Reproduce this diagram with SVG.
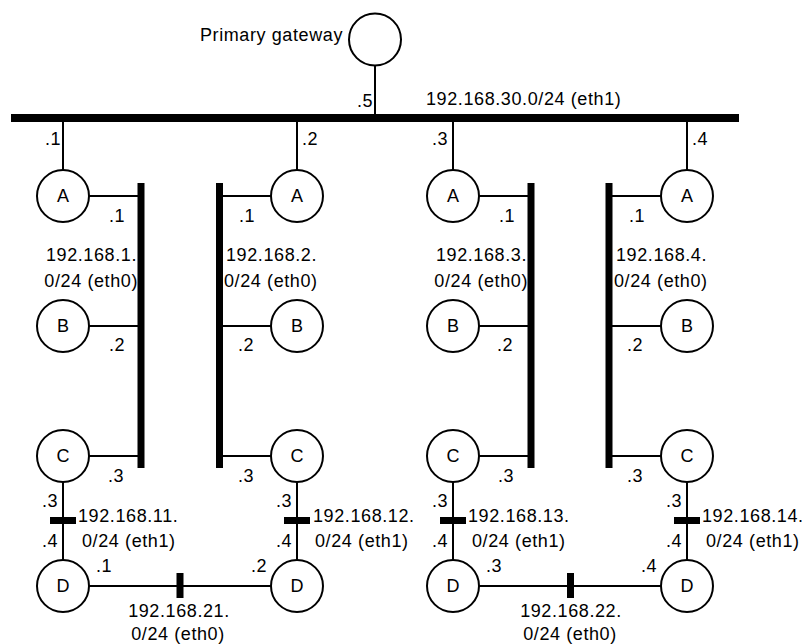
<svg xmlns="http://www.w3.org/2000/svg" width="806" height="644" viewBox="0 0 806 644">
<style>
text{font-family:"Liberation Sans",Arial,sans-serif;font-size:18px;letter-spacing:0.6px;fill:#000}
.n circle{fill:#fff;stroke:#000;stroke-width:2}
.n text{text-anchor:middle;letter-spacing:0}
.w{stroke:#000;stroke-width:2;fill:none}
.bar{fill:#000}
.e{text-anchor:end}
.m{text-anchor:middle}
</style>
<g id="connectors">
<line class="w" x1="375" y1="65" x2="375" y2="118"/>
<line class="w" x1="63" y1="118" x2="63" y2="170"/>
<line class="w" x1="297" y1="118" x2="297" y2="170"/>
<line class="w" x1="453" y1="118" x2="453" y2="170"/>
<line class="w" x1="687" y1="118" x2="687" y2="170"/>
<line class="w" x1="89" y1="196" x2="141" y2="196"/>
<line class="w" x1="89" y1="326" x2="141" y2="326"/>
<line class="w" x1="89" y1="456" x2="141" y2="456"/>
<line class="w" x1="219" y1="196" x2="271" y2="196"/>
<line class="w" x1="219" y1="326" x2="271" y2="326"/>
<line class="w" x1="219" y1="456" x2="271" y2="456"/>
<line class="w" x1="479" y1="196" x2="531" y2="196"/>
<line class="w" x1="479" y1="326" x2="531" y2="326"/>
<line class="w" x1="479" y1="456" x2="531" y2="456"/>
<line class="w" x1="609" y1="196" x2="661" y2="196"/>
<line class="w" x1="609" y1="326" x2="661" y2="326"/>
<line class="w" x1="609" y1="456" x2="661" y2="456"/>
<line class="w" x1="63" y1="482" x2="63" y2="560"/>
<line class="w" x1="297" y1="482" x2="297" y2="560"/>
<line class="w" x1="453" y1="482" x2="453" y2="560"/>
<line class="w" x1="687" y1="482" x2="687" y2="560"/>
<line class="w" x1="89" y1="586" x2="271" y2="586"/>
<line class="w" x1="479" y1="586" x2="661" y2="586"/>
</g>
<g id="buses">
<rect class="bar" x="11" y="114" width="728" height="8"/>
<rect class="bar" x="137.5" y="183" width="7" height="285"/>
<rect class="bar" x="216" y="183" width="7" height="285"/>
<rect class="bar" x="527.5" y="183" width="7" height="285"/>
<rect class="bar" x="605.5" y="183" width="7" height="285"/>
<rect class="bar" x="50" y="517" width="26" height="7"/>
<rect class="bar" x="284" y="517" width="26" height="7"/>
<rect class="bar" x="440" y="517" width="26" height="7"/>
<rect class="bar" x="674" y="517" width="26" height="7"/>
<rect class="bar" x="176.5" y="573" width="7" height="25"/>
<rect class="bar" x="567" y="573" width="7" height="25"/>
</g>
<g id="gateway" class="n"><circle cx="375" cy="39.5" r="26"/></g>
<g id="A1" class="n"><circle cx="63" cy="196" r="26"/><text x="63" y="202">A</text></g>
<g id="A2" class="n"><circle cx="297" cy="196" r="26"/><text x="297" y="202">A</text></g>
<g id="A3" class="n"><circle cx="453" cy="196" r="26"/><text x="453" y="202">A</text></g>
<g id="A4" class="n"><circle cx="687" cy="196" r="26"/><text x="687" y="202">A</text></g>
<g id="B1" class="n"><circle cx="63" cy="326" r="26"/><text x="63" y="332">B</text></g>
<g id="B2" class="n"><circle cx="297" cy="326" r="26"/><text x="297" y="332">B</text></g>
<g id="B3" class="n"><circle cx="453" cy="326" r="26"/><text x="453" y="332">B</text></g>
<g id="B4" class="n"><circle cx="687" cy="326" r="26"/><text x="687" y="332">B</text></g>
<g id="C1" class="n"><circle cx="63" cy="456" r="26"/><text x="63" y="462">C</text></g>
<g id="C2" class="n"><circle cx="297" cy="456" r="26"/><text x="297" y="462">C</text></g>
<g id="C3" class="n"><circle cx="453" cy="456" r="26"/><text x="453" y="462">C</text></g>
<g id="C4" class="n"><circle cx="687" cy="456" r="26"/><text x="687" y="462">C</text></g>
<g id="D1" class="n"><circle cx="63" cy="586" r="26"/><text x="63" y="592">D</text></g>
<g id="D2" class="n"><circle cx="297" cy="586" r="26"/><text x="297" y="592">D</text></g>
<g id="D3" class="n"><circle cx="453" cy="586" r="26"/><text x="453" y="592">D</text></g>
<g id="D4" class="n"><circle cx="687" cy="586" r="26"/><text x="687" y="592">D</text></g>
<g id="labels">
<text class="e" x="343" y="41">Primary gateway</text>
<text x="357" y="107">.5</text>
<text x="426" y="105">192.168.30.0/24 (eth1)</text>
<text x="45" y="145">.1</text>
<text x="302" y="145">.2</text>
<text x="432" y="145">.3</text>
<text x="692" y="145">.4</text>
<text x="109" y="222">.1</text>
<text x="109" y="351">.2</text>
<text x="108" y="482">.3</text>
<text x="239" y="222">.1</text>
<text x="238" y="351">.2</text>
<text x="238" y="482">.3</text>
<text x="499" y="222">.1</text>
<text x="497" y="351">.2</text>
<text x="498" y="482">.3</text>
<text x="629" y="222">.1</text>
<text x="627" y="351">.2</text>
<text x="627" y="482">.3</text>
<text class="e" x="137" y="261">192.168.1.</text>
<text class="e" x="138" y="287">0/24 (eth0)</text>
<text x="226" y="261">192.168.2.</text>
<text x="224" y="287">0/24 (eth0)</text>
<text class="e" x="527" y="261">192.168.3.</text>
<text class="e" x="528" y="287">0/24 (eth0)</text>
<text x="616" y="261">192.168.4.</text>
<text x="614" y="287">0/24 (eth0)</text>
<text x="42" y="507">.3</text>
<text x="42" y="547">.4</text>
<text x="276" y="507">.3</text>
<text x="276" y="547">.4</text>
<text x="432" y="507">.3</text>
<text x="432" y="547">.4</text>
<text x="666" y="507">.3</text>
<text x="666" y="547">.4</text>
<text x="78" y="522">192.168.11.</text>
<text x="82" y="547">0/24 (eth1)</text>
<text x="313" y="522">192.168.12.</text>
<text x="315" y="547">0/24 (eth1)</text>
<text x="468" y="522">192.168.13.</text>
<text x="472" y="547">0/24 (eth1)</text>
<text x="702" y="522">192.168.14.</text>
<text x="706" y="547">0/24 (eth1)</text>
<text x="96" y="572">.1</text>
<text x="251" y="572">.2</text>
<text x="486" y="572">.3</text>
<text x="641" y="572">.4</text>
<text class="m" x="179" y="617">192.168.21.</text>
<text class="m" x="178" y="640">0/24 (eth0)</text>
<text class="m" x="571" y="617">192.168.22.</text>
<text class="m" x="570" y="640">0/24 (eth0)</text>
</g>
</svg>
